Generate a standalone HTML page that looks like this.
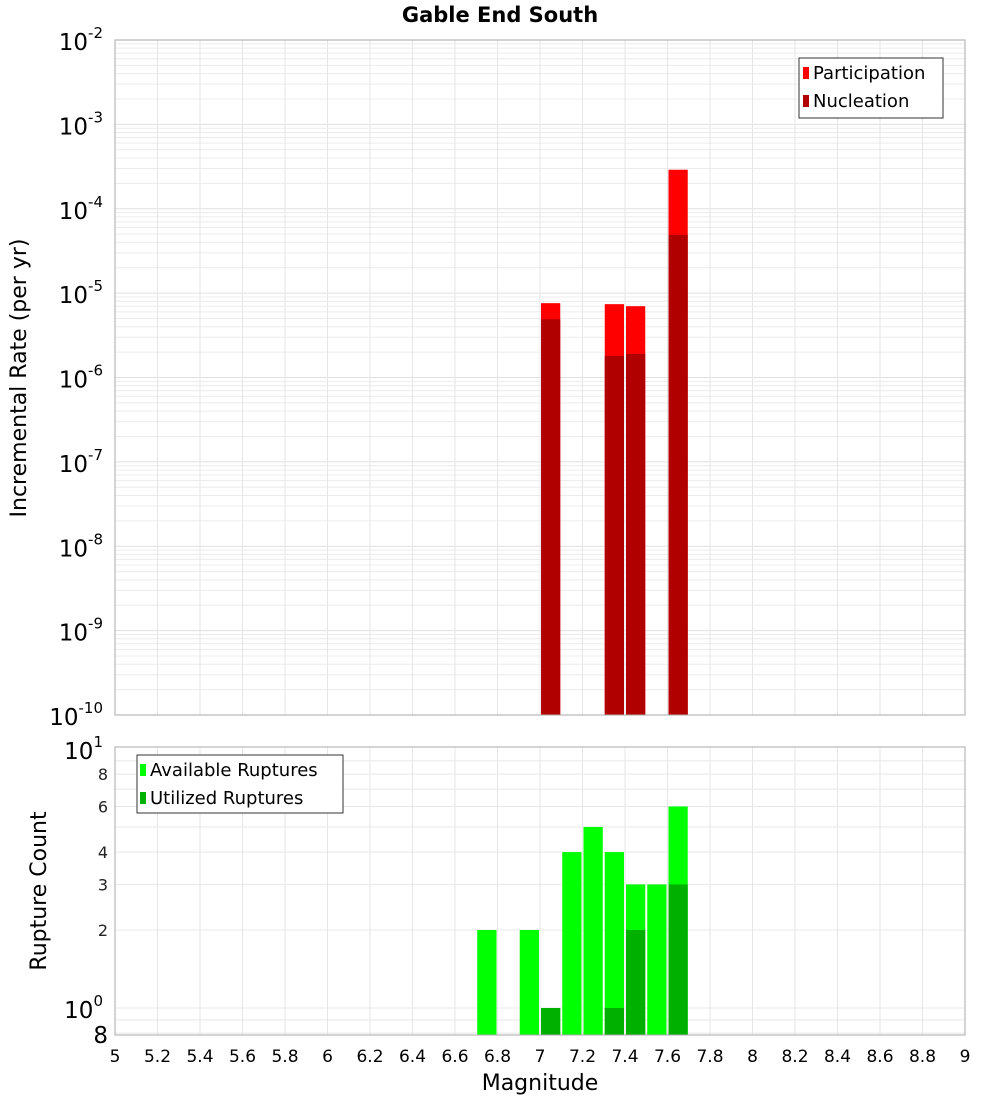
<!DOCTYPE html>
<html><head><meta charset="utf-8"><style>
body{margin:0;background:#fff;font-family:"Liberation Sans","DejaVu Sans",sans-serif;}
svg text{font-family:"DejaVu Sans","Liberation Sans",sans-serif;}
</style></head><body>
<svg id="c" width="1000" height="1100" xmlns="http://www.w3.org/2000/svg">
<text x="500" y="22" text-anchor="middle" font-size="21" font-weight="bold">Gable End South</text>
<g id="topPlot"></g>
<g id="botPlot"></g>
<text x="540" y="1090" text-anchor="middle" font-size="22">Magnitude</text>
<text transform="translate(26,378) rotate(-90)" text-anchor="middle" font-size="22">Incremental Rate (per yr)</text>
<text transform="translate(46,891) rotate(-90)" text-anchor="middle" font-size="22">Rupture Count</text>
</svg>
<script>
const mags=[7.05,7.35,7.45,7.65];
const participation=[7.6e-6,7.4e-6,7.0e-6,2.9e-4];
const nucleation=[4.9e-6,1.8e-6,1.9e-6,4.9e-5];
const countMags=[6.75,6.95,7.05,7.15,7.25,7.35,7.45,7.55,7.65];
const available=[2,2,1,4,5,4,3,3,6];
const utilized=[0,0,1,0,0,1,2,0,3];
const xTicks=["5","5.2","5.4","5.6","5.8","6","6.2","6.4","6.6","6.8","7","7.2","7.4","7.6","7.8","8","8.2","8.4","8.6","8.8","9"];
const topExps=[-2,-3,-4,-5,-6,-7,-8,-9,-10];
const botTicks=["8","6","4","3","2"];

const NS="http://www.w3.org/2000/svg";
const L=115,R=965;
const X=m=>L+(m-5)/4*(R-L);
const T0=40,T1=715;
const Yt=v=>T0+(-2-Math.log10(v))*(T1-T0)/8;
const B0=747,B1=1035;
const Yb=v=>1008-Math.log10(v)*259;
function mk(p,tag,a){const e=document.createElementNS(NS,tag);for(const k in a)e.setAttribute(k,a[k]);p.appendChild(e);return e;}
const gTop=document.getElementById('topPlot'),gBot=document.getElementById('botPlot');
for(let e=-10;e<-2;e++)for(let k=1;k<10;k++){const y=Yt(k*Math.pow(10,e));
const l=mk(gTop,'line',{x1:L,x2:R,y1:y,y2:y,stroke:k==1?'#e0e0e0':'#ececec','stroke-width':1});

}
xTicks.forEach(t=>{const x=X(+t);
const l=mk(gTop,'line',{x1:x,x2:x,y1:T0,y2:T1,stroke:'#e6e6e6'});


const l2=mk(gBot,'line',{x1:x,x2:x,y1:B0,y2:B1,stroke:'#e6e6e6'});


const tx=mk(gBot,'text',{x:x,y:1062,'text-anchor':'middle','font-size':17});
tx.textContent=t;

});
topExps.forEach(e=>{const y=Yt(Math.pow(10,e));
const t=mk(gTop,'text',{x:103,y:y+10,'text-anchor':'end','font-size':23});
t.innerHTML='10<tspan dy="-12" font-size="15">'+e+'</tspan>';

});
mags.forEach((m,i)=>{const x=X(m-0.05)+1,w=X(m+0.05)-X(m-0.05)-2;
const p=mk(gTop,'rect',{x:x,y:Yt(participation[i]),width:w,height:T1-Yt(participation[i]),fill:'#ff0000'});


const n=mk(gTop,'rect',{x:x,y:Yt(nucleation[i]),width:w,height:T1-Yt(nucleation[i]),fill:'#b00000'});

});
mk(gTop,'rect',{x:L,y:T0,width:R-L,height:T1-T0,fill:'none',stroke:'#aaa'});
const lg=mk(gTop,'g',{});


mk(lg,'rect',{x:799,y:58,width:144,height:60,fill:'#fff',stroke:'#333'});
mk(lg,'rect',{x:803,y:67,width:6,height:12,fill:'#ff0000'});
mk(lg,'rect',{x:803,y:95,width:6,height:12,fill:'#b00000'});
let t1=mk(lg,'text',{x:813,y:79,'font-size':18});t1.textContent='Participation';
let t2=mk(lg,'text',{x:813,y:107,'font-size':18});t2.textContent='Nucleation';
[0.8,0.9,1,2,3,4,5,6,7,8,9].forEach(v=>{const y=Yb(v);
const l=mk(gBot,'line',{x1:L,x2:R,y1:y,y2:y,stroke:'#e8e8e8'});

});
botTicks.forEach(t=>{const y=Yb(+t);
const tx=mk(gBot,'text',{x:108,y:y+6,'text-anchor':'end','font-size':16,fill:'#222'});
tx.textContent=t;

});
[['1',749],['0',1008]].forEach(a=>{const t=mk(gBot,'text',{x:103,y:a[1]+10,'text-anchor':'end','font-size':23});
t.innerHTML='10<tspan dy="-12" font-size="15">'+a[0]+'</tspan>';

});
let t8=mk(gBot,'text',{x:108,y:1043,'text-anchor':'end','font-size':23});t8.textContent='8';
countMags.forEach((m,i)=>{const x=X(m-0.05)+1,w=X(m+0.05)-X(m-0.05)-2;
if(available[i]>0){const a=mk(gBot,'rect',{x:x,y:Yb(available[i]),width:w,height:B1-Yb(available[i]),fill:'#00ff00'});

}
if(utilized[i]>0){const u=mk(gBot,'rect',{x:x,y:Yb(utilized[i]),width:w,height:B1-Yb(utilized[i]),fill:'#00b000'});

}});
mk(gBot,'rect',{x:L,y:B0,width:R-L,height:B1-B0,fill:'none',stroke:'#aaa'});
const lb=mk(gBot,'g',{});


mk(lb,'rect',{x:137,y:755,width:206,height:58,fill:'#fff',stroke:'#333'});
mk(lb,'rect',{x:140,y:764,width:6,height:12,fill:'#00ff00'});
mk(lb,'rect',{x:140,y:792,width:6,height:12,fill:'#00b000'});
let t3=mk(lb,'text',{x:150,y:776,'font-size':18});t3.textContent='Available Ruptures';
let t4=mk(lb,'text',{x:150,y:804,'font-size':18});t4.textContent='Utilized Ruptures';
</script>
</body></html>
